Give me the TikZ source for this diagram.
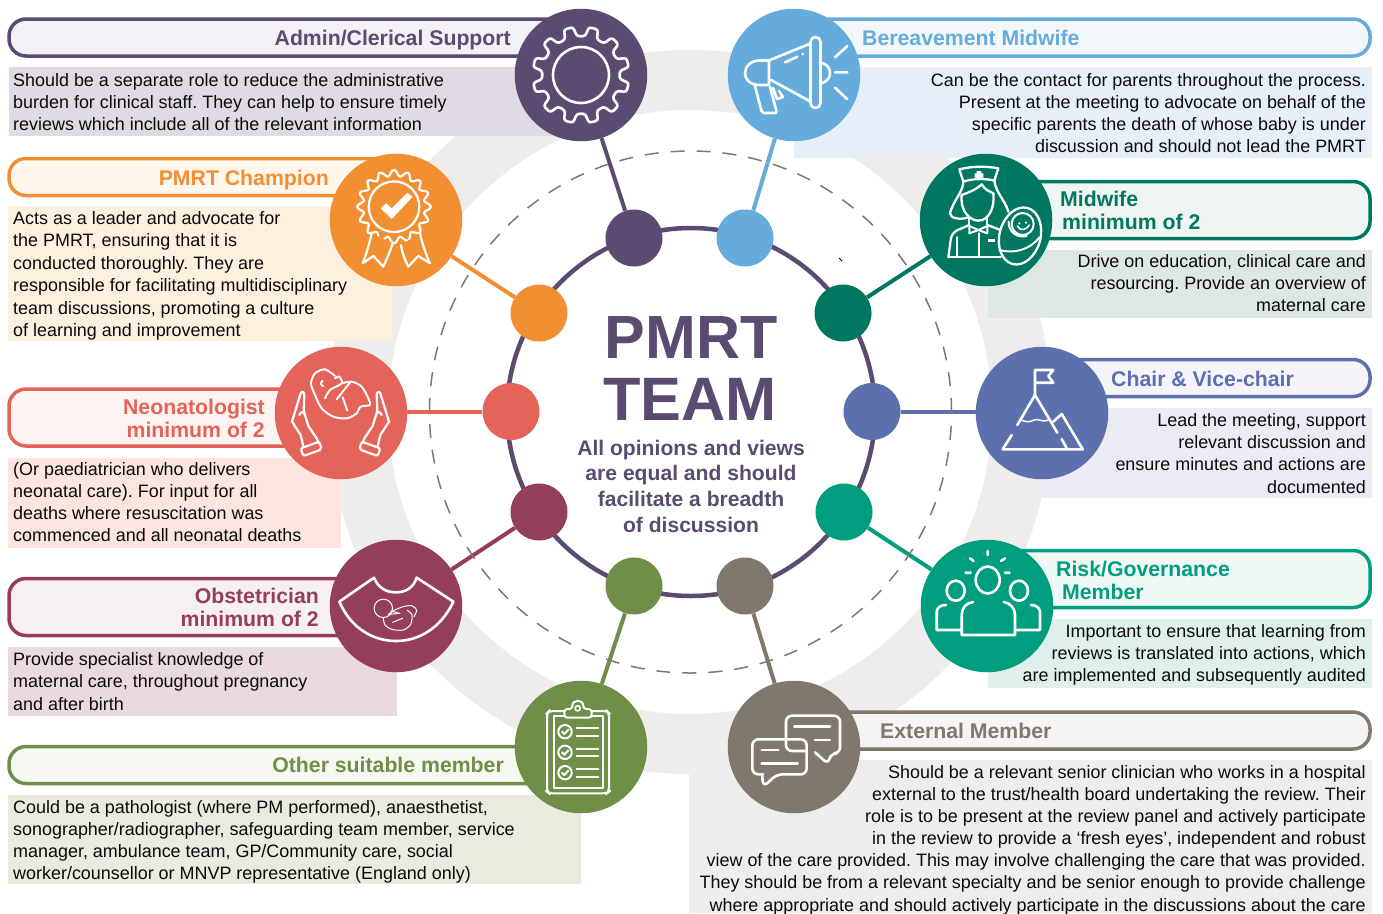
\documentclass[tikz,border=0pt]{standalone}
\usepackage{fontspec}
\setmainfont{Liberation Sans}
\pgfdeclarelayer{bg}
\pgfsetlayers{bg,main}
\definecolor{cadmin}{HTML}{5C4B71}
\definecolor{cbere}{HTML}{65ABDC}
\definecolor{cchamp}{HTML}{F28F33}
\definecolor{cmid}{HTML}{007861}
\definecolor{cneo}{HTML}{E5645A}
\definecolor{cchair}{HTML}{5D70AE}
\definecolor{cobst}{HTML}{943E5C}
\definecolor{crisk}{HTML}{009E7F}
\definecolor{cother}{HTML}{6F8F48}
\definecolor{cext}{HTML}{80776D}
\definecolor{cgrey}{HTML}{EEEDEB}
\definecolor{padmin}{HTML}{DFDAE4}
\definecolor{pbere}{HTML}{E6EEF8}
\definecolor{pchamp}{HTML}{FEF0DF}
\definecolor{pmid}{HTML}{DDE8E3}
\definecolor{pneo}{HTML}{FBE5DE}
\definecolor{pchair}{HTML}{EBEBF6}
\definecolor{pobst}{HTML}{EAD9DF}
\definecolor{prisk}{HTML}{DFF0EA}
\definecolor{pother}{HTML}{E8EBDD}
\definecolor{ladmin}{HTML}{F3F1F5}
\definecolor{lbere}{HTML}{F2F7FC}
\definecolor{lchamp}{HTML}{FFF6EC}
\definecolor{lmid}{HTML}{EFF5F3}
\definecolor{lneo}{HTML}{FDF3F0}
\definecolor{lchair}{HTML}{F4F4FA}
\definecolor{lobst}{HTML}{F7F0F3}
\definecolor{lrisk}{HTML}{F0F8F6}
\definecolor{lother}{HTML}{F6F8F2}
\definecolor{lext}{HTML}{F5F4F3}
\tikzset{
  icon/.style={draw=white,line width=2.6pt,line cap=round,line join=round,fill=none},
  fineicon/.style={draw=white,line width=1.2pt,line cap=round,line join=round,fill=none},
  badge/.style={circle,minimum size=132.5pt,inner sep=0,fill=#1},
  hub/.style={circle,minimum size=57pt,inner sep=0,fill=#1},
  link/.style={draw=#1,line width=4pt},
  pill/.style 2 args={draw=#1,fill=#2,line width=3.5pt,rounded corners=17pt,inner sep=0},
  body/.style={font=\fontsize{17.94}{22.3}\selectfont\frenchspacing,inner sep=0,text=black!96},
  bodyl/.style={body,anchor=north west,align=left},
  bodyr/.style={body,anchor=north east,align=right},
  titlef/.style={font=\fontsize{21.25}{23.5}\selectfont\bfseries,inner sep=0,text=#1},
}
\begin{document}
\begin{tikzpicture}[x=1pt,y=-1pt]
\useasboundingbox (0,0) rectangle (1383,913);

% icon badges
\node[badge=cadmin]  (iA) at (581,75) {};
\node[badge=cbere]   (iB) at (794,75) {};
\node[badge=cchamp]  (iC) at (396,220) {};
\node[badge=cmid]    (iM) at (986,220) {};
\node[badge=cneo]    (iN) at (341,413) {};
\node[badge=cchair]  (iH) at (1042,413) {};
\node[badge=cobst]   (iO) at (396,606) {};
\node[badge=crisk]   (iR) at (987,606) {};
\node[badge=cother]  (iS) at (581,747) {};
\node[badge=cext]    (iE) at (794,747) {};
% hubs
\node[hub=cadmin]  (hA) at (634,238) {};
\node[hub=cbere]   (hB) at (745,238) {};
\node[hub=cchamp]  (hC) at (539,313) {};
\node[hub=cmid]    (hM) at (843,313) {};
\node[hub=cneo]    (hN) at (511,411.5) {};
\node[hub=cchair]  (hH) at (872,411.5) {};
\node[hub=cobst]   (hO) at (539,512) {};
\node[hub=crisk]   (hR) at (844,512) {};
\node[hub=cother]  (hS) at (634,586) {};
\node[hub=cext]    (hE) at (745,586) {};

\begin{pgfonlayer}{bg}
\fill[white] (0,0) rectangle (1383,913);
\fill[cgrey,even odd rule] (690,412) circle[radius=362pt] (690,412) circle[radius=302pt];
% text panels
\fill[cgrey] (689,760) rectangle (1372,913);
\fill[padmin] (9,67) rectangle (560,136);
\fill[pbere] (794,67) rectangle (1372,158);
\fill[pchamp] (8,206) rectangle (392,341);
\fill[pmid] (988,250) rectangle (1372,318);
\fill[pneo] (8,458) rectangle (341,548);
\fill[pchair] (1040,408) rectangle (1372,498);
\fill[pobst] (8,647) rectangle (397,716);
\fill[prisk] (988,619) rectangle (1372,688);
\fill[pother] (8,795) rectangle (581,884);
% label bars
\node[pill={cadmin}{ladmin},minimum width=570pt,minimum height=37pt] (bA) at (294,37.5) {};
\node[pill={cchamp}{lchamp},minimum width=390pt,minimum height=37pt] (bC) at (204,177) {};
\node[pill={cneo}{lneo},minimum width=320pt,minimum height=57pt] (bN) at (169,417.5) {};
\node[pill={cobst}{lobst},minimum width=390pt,minimum height=57pt] (bO) at (204,607) {};
\node[pill={cother}{lother},minimum width=570pt,minimum height=37pt] (bS) at (294,765) {};
\node[pill={cbere}{lbere},minimum width=570pt,minimum height=37pt] (bB) at (1085,37.5) {};
\node[pill={cmid}{lmid},minimum width=390pt,minimum height=57pt] (bM) at (1175,210) {};
\node[pill={cchair}{lchair},minimum width=320pt,minimum height=37pt] (bH) at (1210,378) {};
\node[pill={crisk}{lrisk},minimum width=390pt,minimum height=57pt] (bR) at (1175,579) {};
\node[pill={cext}{lext},minimum width=570pt,minimum height=37pt] (bE) at (1085,730.5) {};
% ring and connectors
\node[circle,draw=cadmin,line width=4.5pt,minimum size=368pt,inner sep=0] (ring) at (691,412) {};
\draw[link=cadmin] (hA) -- (iA);
\draw[link=cbere] (hB) -- (iB);
\draw[link=cchamp] (hC) -- (iC);
\draw[link=cmid] (hM) -- (iM);
\draw[link=cneo] (hN) -- (hN -| iN);
\draw[link=cchair] (hH) -- (hH -| iH);
\draw[link=cobst] (hO) -- (iO);
\draw[link=crisk] (hR) -- (iR);
\draw[link=cother] (hS) -- (iS);
\draw[link=cext] (hE) -- (iE);
\draw[cext,line width=1.5pt,dash pattern=on 14pt off 12pt] (690.5,412) circle[radius=261pt];
\draw[black,line width=.8pt] (839,258) -- (842,261);
\end{pgfonlayer}

% gear
\draw[icon,rounded corners=2.5pt,shift={(581,75)}] (6:39)
  \foreach \a in {15,45,...,345}{ -- ({\a-9}:39) -- ({\a-5.5}:48.5) -- ({\a+5.5}:48.5) -- ({\a+9}:39)} -- cycle;
\draw[icon] (581,75) circle[radius=28pt];

% megaphone
\draw[icon,rounded corners=5pt] (810.5,37) rectangle (820.5,108);
\draw[icon] (810.5,43.5) -- (770,60) (810.5,101.5) -- (771,80);
\draw[icon] (769,60.5) -- (769,85) -- (760,85) .. controls (748,85) and (745,78) .. (745,73) .. controls (745,66) and (751,60.5) .. (760,60.5) -- (769,60.5);
\draw[icon,rounded corners=2pt] (755,86) -- (762,113) -- (777,113) -- (770,87);
\draw[icon] (773,88) -- (777,99) -- (783,97) -- (779,91);
\draw[icon] (822.5,63) .. controls (828,65) and (830,69) .. (830,73) .. controls (830,78) and (827,81) .. (822.5,83);
\draw[icon] (835,57.3) -- (847.3,46) (835,72.3) -- (847.3,72.3) (835,87.7) -- (847.3,99.3);
\draw[icon] (785,62.3) -- (797.3,56.7);
\fill[white] (802.7,54) circle[radius=1.3pt];

% rosette
\draw[icon,line width=2.2pt] plot[smooth,domain=0:360,samples=129] ({394+(33.7+3.1*cos(16*\x))*cos(\x)},{206.7+(33.7+3.1*cos(16*\x))*sin(\x)});
\draw[icon,line width=2.2pt] (394,206.7) circle[radius=25.3pt];
\draw[icon,line width=2.2pt,fill=cchamp] (371.7,233.3) .. controls (369,245) and (366,255) .. (362.7,263.3) -- (373.3,256) -- (383.3,266.7) .. controls (387,258) and (390,252) .. (392.7,243.3);
\draw[icon,line width=2.2pt,fill=cchamp] (401,245) .. controls (402,253) and (405,260) .. (408.3,266.7) -- (418.3,256) -- (430,263.3) .. controls (426,255) and (422,243) .. (420,233.3);
\fill[white] (380.7,208.3) -- (391.7,219) -- (412.7,196.7) -- (407.3,192.7) -- (391.7,208.3) -- (386,203.3) -- cycle;

% midwife
\begin{scope}[shift={(910,150)},x=.33333pt,y=-.33333pt]
\draw[icon,line width=2.3pt] (148,58) .. controls (190,48) and (225,48) .. (265,55) -- (253,92) .. controls (225,85) and (190,85) .. (160,95) -- cycle;
\fill[white] (200,63) rectangle (214,90) (194,70) rectangle (220,83);
\draw[icon,line width=2.3pt] (160,95) .. controls (158,130) and (130,150) .. (120,190) .. controls (120,205) and (150,210) .. (172,203);
\draw[icon,line width=2.3pt] (253,92) .. controls (258,130) and (285,150) .. (295,185);
\draw[icon,line width=2.3pt] (155,135) .. controls (150,190) and (185,212) .. (205,212) .. controls (235,212) and (255,175) .. (250,130);
\draw[icon,line width=2.3pt] (155,135) .. controls (175,128) and (200,118) .. (215,103) .. controls (225,120) and (240,125) .. (250,130);
\draw[icon,line width=2.3pt] (178,205) -- (178,225) (232,205) -- (232,225);
\draw[icon,line width=2.3pt,rounded corners=6pt] (115,322) -- (125,248) -- (178,225);
\draw[icon,line width=2.3pt] (232,225) -- (285,245);
\draw[icon,line width=2pt] (178,228) -- (205,240) -- (232,228) -- (232,250) -- (205,240) -- (178,250) -- cycle;
\draw[icon,line width=2.3pt] (207,250) -- (207,320) (142,262) -- (142,320) (115,322) -- (272,322);
\fill[white] (235,268) rectangle (255,277);
\draw[icon,line width=2.3pt,fill=cmid,rotate around={-15:(330,258)}] (330,258) ellipse[x radius=20.5pt,y radius=29pt];
\draw[icon,line width=2pt] (338,222) circle[radius=11pt];
\draw[icon,line width=1.6pt] (322,228) .. controls (330,245) and (350,240) .. (358,225);
\draw[icon,line width=2pt] (268,300) .. controls (310,312) and (360,300) .. (388,262);
\draw[icon,line width=2pt] (296,215) .. controls (295,245) and (320,265) .. (350,258);
\fill[white] (328,220) circle[radius=1.2pt] (348,218) circle[radius=1.2pt];
\end{scope}

% baby in hands
\begin{scope}[shift={(270,340)},x=.33333pt,y=-.33333pt]
\draw[icon,line width=1.9pt] plot[smooth] coordinates {(195,108) (165,88) (135,100) (123,130) (135,165) (155,205) (190,230) (230,235) (260,220) (272,200) (300,195) (295,175) (275,140) (245,125) (215,130)};
\draw[icon,line width=1.9pt] plot[smooth] coordinates {(165,175) (180,150) (215,130) (208,110) (195,115)};
\draw[icon,line width=1.9pt] plot[smooth] coordinates {(200,178) (222,150) (240,128)};
\draw[icon,line width=1.9pt] (218,172) -- (232,212);
\draw[icon,line width=1.9pt] (158,122) .. controls (150,128) and (152,136) .. (160,138);
\foreach \m/\o in {1/0,-1/423}{
\begin{scope}[shift={(\o,0)},x={(\m*.33333pt,0)}]
\draw[icon,line width=2.2pt] (92,160) .. controls (95,152) and (103,155) .. (103,165) -- (101,212) -- (115,258) -- (140,295) -- (146,310);
\draw[icon,line width=2.2pt] (92,160) -- (66,245) -- (92,285) -- (100,318);
\draw[icon,line width=2.2pt] (88,225) .. controls (92,215) and (100,213) .. (103,222);
\draw[icon,line width=2.2pt,rounded corners=2pt] (92,325) -- (148,305) -- (155,328) -- (100,348) -- cycle;
\end{scope}}
\end{scope}

% ultrasound
\begin{scope}[shift={(320,535)},x=.33333pt,y=-.33333pt]
\draw[icon,line width=2.6pt] (58,200) -- (162,128) .. controls (175,160) and (200,172) .. (228,172) .. controls (255,172) and (280,160) .. (290,128) -- (400,200) .. controls (360,285) and (290,318) .. (228,318) .. controls (165,318) and (95,285) .. (58,200) -- cycle;
\draw[fineicon,line width=1pt] (190,220) circle[radius=9.2pt];
\draw[fineicon,line width=1pt] plot[smooth] coordinates {(190,250) (195,270) (215,283) (250,285) (272,268) (276,240) (262,226)};
\draw[fineicon,line width=1pt] plot[smooth] coordinates {(205,238) (225,225) (250,215) (275,212) (290,225) (282,245)};
\draw[fineicon,line width=1pt] (205,238) -- (240,235) -- (212,228) (218,262) -- (248,250);
\end{scope}

% clipboard
\begin{scope}[shift={(505,675)},x=.33333pt,y=-.33333pt]
\draw[icon,line width=2pt,rounded corners=4pt] (178,108) -- (132,108) -- (126,114) -- (126,350) -- (132,355) -- (306,355) -- (312,350) -- (312,114) -- (306,108) -- (260,108);
\draw[icon,line width=2pt] (180,123) -- (146,123) -- (146,338) -- (293,338) -- (293,123) -- (258,123);
\draw[icon,line width=2pt,rounded corners=3pt] (178,128) -- (178,102) -- (202,102) .. controls (202,72) and (235,72) .. (235,102) -- (260,102) -- (260,128) -- cycle;
\draw[icon,line width=1.6pt] (218,100) circle[radius=2.6pt];
\foreach \y in {170,232,293}{
  \draw[icon,line width=2pt] (180,\y) circle[radius=6.7pt];
  \draw[icon,line width=2pt] (171,\y) -- (178,{\y+7}) -- (190,{\y-6});
  \draw[icon,line width=1.8pt] (215,{\y-10}) -- (280,{\y-10}) (215,{\y+12}) -- (280,{\y+12});
}
\end{scope}

% speech bubbles
\begin{scope}[shift={(505,675)},x=.33333pt,y=-.33333pt]
\draw[icon,rounded corners=6pt] (930,232) -- (970,268) -- (977,235) -- (1005,235) -- (1005,122) -- (843,122) -- (843,228) -- (905,228);
\draw[icon,rounded corners=6pt] (775,298) -- (742,298) -- (742,193) -- (905,193) -- (905,298) -- (815,298) -- (775,336) -- (771,298);
\draw[icon] (868,155) -- (975,155) (930,195) -- (975,195) (770,225) -- (820,225) (770,265) -- (878,265);
\end{scope}

% mountain
\draw[icon] (1035,395) -- (1035,370) -- (1053.3,370) -- (1048.3,376) -- (1053.3,382.7) -- (1035,382.7);
\draw[icon] (1017.3,425) -- (1035,395) -- (1057.3,432.7) (1061.7,439) -- (1066.7,448.3);
\draw[icon] (1011.7,435) -- (1002.7,449.3) -- (1082.7,449.3) -- (1061.7,414) -- (1053.3,421.7);
\draw[icon,line width=1.5pt] (1020,419) .. controls (1026,423) and (1030,422) .. (1034,420) .. controls (1038,418) and (1043,423) .. (1048.3,420);

% people
\draw[icon] (987.7,580) ellipse[x radius=12pt,y radius=13.5pt];
\draw[icon] (955.7,590.7) ellipse[x radius=9pt,y radius=10pt];
\draw[icon] (1019,590.7) ellipse[x radius=9pt,y radius=10pt];
\draw[icon] (973,602) .. controls (966,603) and (961.7,608) .. (961.7,615) -- (961.7,635) -- (1015,635) -- (1015,615) .. controls (1015,608) and (1010,603) .. (1003.7,602);
\draw[icon] (961.7,630) -- (936.7,630) -- (936.7,612) .. controls (936.7,608) and (940,605) .. (946,605);
\draw[icon] (1015,630) -- (1040,630) -- (1040,612) .. controls (1040,608) and (1036,605) .. (1031,605);
\draw[icon] (987.7,551) -- (987.7,555) (970,558.3) -- (973.5,561) (1005,558.3) -- (1001,561) (965.5,572.7) -- (970.7,572.7) (1005,572.7) -- (1009.5,572.7);

% centre text
\node[font=\fontsize{61}{61}\selectfont\bfseries,text=cadmin,inner sep=0,anchor=base] (t1) at (691,358) {PMRT};
\node[font=\fontsize{61.3}{61}\selectfont\bfseries,text=cadmin,inner sep=0,anchor=base] (t2) at (690,420.5) {TEAM};
\node[font=\fontsize{21.1}{25.7}\selectfont\bfseries,text=cadmin,inner sep=0,align=center,anchor=north] (t3) at (691,437) {\strut All opinions and views\\are equal and should\\facilitate a breadth\\of discussion};

% titles
\node[titlef=cadmin,anchor=base east] (tA) at (511,45) {Admin/Clerical Support};
\node[titlef=cchamp,anchor=base east] (tC) at (329,185) {PMRT Champion};
\node[titlef=cneo,anchor=base east] (tN1) at (265,414) {Neonatologist};
\node[titlef=cneo,anchor=base east] (tN2) at (265,437) {minimum of 2};
\node[titlef=cobst,anchor=base east] (tO1) at (319,603) {Obstetrician};
\node[titlef=cobst,anchor=base east] (tO2) at (319,626) {minimum of 2};
\node[titlef=cother,anchor=base east] (tS) at (504,772) {Other suitable member};
\node[titlef=cbere,anchor=base west] (tB) at (862,45) {Bereavement Midwife};
\node[titlef=cmid,anchor=base west] (tM1) at (1060,206) {Midwife};
\node[titlef=cmid,anchor=base west] (tM2) at (1062,229) {minimum of 2};
\node[titlef=cchair,anchor=base west] (tH) at (1111,386) {Chair \& Vice-chair};
\node[titlef=crisk,anchor=base west] (tR1) at (1056,576) {Risk/Governance};
\node[titlef=crisk,anchor=base west] (tR2) at (1062,599) {Member};
\node[titlef=cext,anchor=base west] (tE) at (880,738) {External Member};

% body text
\node[bodyl] (xA) at (13,70.5) {\strut Should be a separate role to reduce the administrative\\burden for clinical staff. They can help to ensure timely\\reviews which include all of the relevant information};
\node[bodyl,font=\fontsize{17.94}{22.4}\selectfont\frenchspacing] (xC) at (13,208.7) {\strut Acts as a leader and advocate for\\the PMRT, ensuring that it is\\conducted thoroughly. They are\\responsible for facilitating multidisciplinary\\team discussions, promoting a culture\\of learning and improvement};
\node[bodyl,font=\fontsize{17.94}{22}\selectfont\frenchspacing] (xN) at (13,460.3) {\strut (Or paediatrician who delivers\\neonatal care). For input for all\\deaths where resuscitation was\\commenced and all neonatal deaths};
\node[bodyl] (xO) at (13,649.7) {\strut Provide specialist knowledge of\\maternal care, throughout pregnancy\\and after birth};
\node[bodyl,font=\fontsize{17.94}{22}\selectfont\frenchspacing] (xS) at (13,797.5) {\strut Could be a pathologist (where PM performed), anaesthetist,\\sonographer/radiographer, safeguarding team member, service\\manager, ambulance team, GP/Community care, social\\worker/counsellor or MNVP representative (England only)};
\node[bodyr,font=\fontsize{17.94}{22}\selectfont\frenchspacing] (xB) at (1366,70.5) {\strut Can be the contact for parents throughout the process.\\Present at the meeting to advocate on behalf of the\\specific parents the death of whose baby is under\\discussion and should not lead the PMRT};
\node[bodyr] (xM) at (1366,251.5) {\strut Drive on education, clinical care and\\resourcing. Provide an overview of\\maternal care};
\node[bodyr] (xH) at (1366,410.5) {\strut Lead the meeting, support\\relevant discussion and\\ensure minutes and actions are\\documented};
\node[bodyr] (xR) at (1366,621.2) {\strut Important to ensure that learning from\\reviews is translated into actions, which\\are implemented and subsequently audited};
\node[bodyr,font=\fontsize{17.94}{22.15}\selectfont\frenchspacing] (xE) at (1366,762.5) {\strut Should be a relevant senior clinician who works in a hospital\\external to the trust/health board undertaking the review. Their\\role is to be present at the review panel and actively participate\\in the review to provide a ‘fresh eyes’, independent and robust\\view of the care provided. This may involve challenging the care that was provided.\\They should be from a relevant specialty and be senior enough to provide challenge\\where appropriate and should actively participate in the discussions about the care};
\end{tikzpicture}
\end{document}
